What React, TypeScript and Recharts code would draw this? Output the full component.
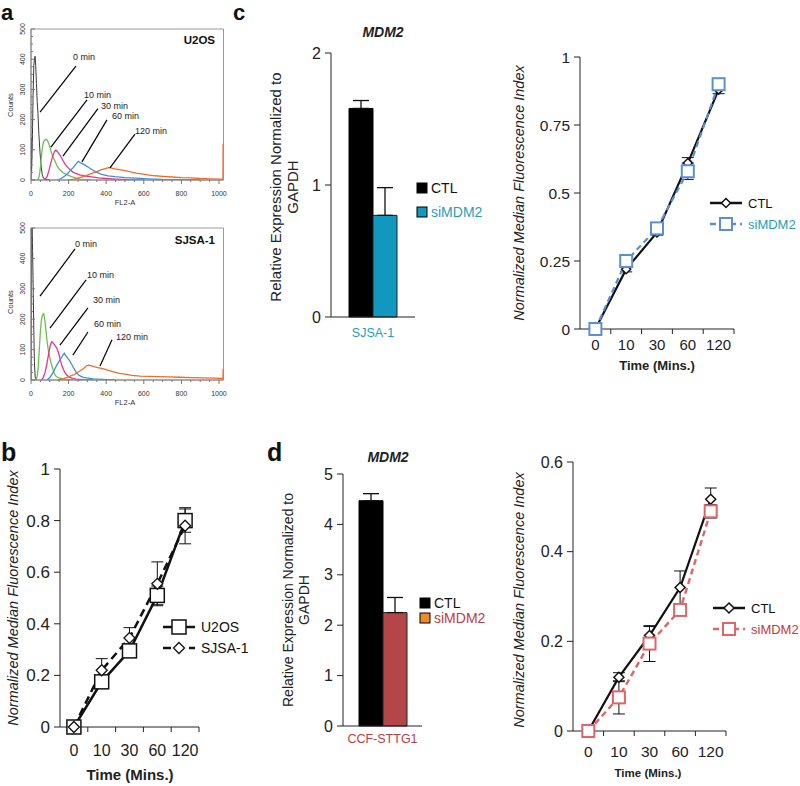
import React from 'react';
import {
  LineChart, Line, XAxis, YAxis, ReferenceLine, ReferenceDot, ReferenceArea,
  BarChart, Bar, ErrorBar, Legend,
} from 'recharts';

const FONT = '"Liberation Sans", Arial, Helvetica, sans-serif';
type Pt = [number, number];

// ---------- Panel a: flow cytometry histograms (FL2-A, Counts) ----------
const u2os0min: Pt[] = [[0,0],[1,140],[3,30],[7,120],[11,280],[15,380],[19,405],[22,410],[25,380],[29,320],[33,260],[37,220],[42,150],[48,90],[54,45],[60,18],[66,6],[80,2],[100,0]];
const u2os10min: Pt[] = [[35,0],[42,8],[48,30],[54,70],[60,105],[66,125],[72,132],[78,135],[84,133],[90,128],[96,118],[102,105],[110,88],[118,75],[128,62],[140,45],[154,33],[170,25],[185,19],[200,15],[220,10],[240,6],[260,3],[290,1],[320,0]];
const u2os30min: Pt[] = [[70,0],[85,10],[95,30],[105,55],[115,78],[123,92],[131,99],[138,96],[145,90],[155,82],[163,73],[172,62],[182,52],[190,46],[198,40],[210,33],[222,27],[234,23],[260,17],[290,13],[323,10],[360,7],[400,5],[450,3],[520,1],[600,0]];
const u2os60min: Pt[] = [[140,0],[160,5],[180,13],[200,25],[215,35],[230,45],[242,55],[252,62],[260,58],[270,55],[285,50],[305,42],[325,34],[345,27],[376,19],[410,14],[447,11],[500,8],[560,6],[620,4],[700,2],[800,1],[900,0]];
const u2os120min: Pt[] = [[200,0],[230,3],[260,8],[290,14],[320,21],[350,28],[375,34],[395,38],[411,41],[425,40],[445,37],[470,34],[500,31],[530,27],[560,23],[589,20],[620,17],[660,14],[700,12],[750,10],[800,8],[850,7],[900,5],[950,4],[1000,3],[1021,2],[1022,118],[1023,118]];

const sjsa0min: Pt[] = [[0,0],[2,520],[6,520],[10,365],[14,200],[18,60],[22,10],[28,0]];
const sjsa10min: Pt[] = [[25,0],[32,10],[38,40],[44,100],[50,160],[56,200],[62,215],[68,218],[74,195],[80,160],[86,125],[92,99],[98,78],[104,62],[110,49],[118,32],[128,16],[140,9],[154,6],[180,3],[220,0]];
const sjsa30min: Pt[] = [[55,0],[65,8],[75,25],[85,55],[95,90],[103,115],[110,126],[118,122],[126,115],[137,105],[145,92],[155,70],[163,49],[172,35],[180,25],[190,16],[203,10],[216,6],[240,3],[280,1],[330,0]];
const sjsa60min: Pt[] = [[85,0],[100,8],[115,22],[128,38],[137,49],[150,62],[162,74],[170,82],[177,88],[185,80],[195,72],[205,64],[216,52],[228,38],[240,26],[252,17],[265,12],[280,9],[296,7],[330,4],[380,2],[450,0]];
const sjsa120min: Pt[] = [[140,0],[170,4],[200,10],[230,18],[255,28],[280,38],[295,46],[305,49],[318,47],[335,44],[355,41],[375,38],[395,35],[411,32],[440,27],[470,22],[500,19],[535,15],[580,13],[630,12],[677,11],[730,10],[790,9],[855,8],[920,7],[979,6],[1015,5],[1021,5],[1022,35],[1023,35]];

const histLabels = ['0 min', '10 min', '30 min', '60 min', '120 min'];
const histColors = ['#3a3a3a', '#6cbf4a', '#e8348a', '#3f8fd8', '#f4692a'];
const histXTicks = [0,50,100,150,200,250,300,350,400,450,500,550,600,650,700,750,800,850,900,950,1000];
const histYTicks = [0,25,50,75,100,125,150,175,200,225,250,275,300,325,350,375,400,425,450,475,500];

// annotation anchors in data units: [textX, textY, lineX1, lineY1, lineX2, lineY2]
const u2osNotes = [[223,409,239,377,48,225],[282,283,298,265,106,109],[372,246,356,236,170,79],[431,213,404,199,271,60],[553,162,553,152,420,40]];
const sjsaNotes = [[234,447,234,431,48,276],[298,345,293,329,101,171],[330,263,303,237,154,115],[335,184,303,158,223,82],[452,141,431,132,367,46]];

// ---------- Time course panels ----------
const timeCats = ['0', '10', '30', '60', '120'];
// panel b
const u2osMfi = [0, 0.175, 0.295, 0.51, 0.80];
const u2osMfiErr = [0, 0.02, 0.02, 0.036, 0.045];
const sjsaMfi = [0, 0.22, 0.345, 0.555, 0.78];
const sjsaMfiErr = [0, 0.045, 0.04, 0.085, 0.07];
// panel c (SJSA-1)
const ctlMfiC = [0, 0.22, 0.355, 0.61, 0.88];
const ctlMfiCErr = [0, 0.01, 0.01, 0.02, 0.015];
const siMfiC = [0, 0.25, 0.37, 0.58, 0.90];
const siMfiCErr = [0, 0.01, 0.01, 0.03, 0.01];
// panel d (CCF-STTG1)
const ctlMfiD = [0, 0.12, 0.213, 0.32, 0.517];
const ctlMfiDErr = [0, 0.01, 0.02, 0.037, 0.025];
const siMfiD = [0, 0.075, 0.195, 0.27, 0.49];
const siMfiDErr = [0, 0.037, 0.04, 0.01, 0.015];

// bar panels: MDM2 expression
const barCellC = 'SJSA-1';
const ctlExprC = 1.58; const ctlExprCErr = 0.06;
const siExprC = 0.77; const siExprCErr = 0.21;
const barCellD = 'CCF-STTG1';
const ctlExprD = 4.47; const ctlExprDErr = 0.14;
const siExprD = 2.25; const siExprDErr = 0.30;

const timeTicks = [0.5, 1, 1.5, 2, 2.5, 3, 3.5, 4, 4.5, 5];

const toXY = (pts: Pt[]) => pts.map(([x, y]) => ({ x, y }));

const HistXTick = (p: any) => {
  const { x, y, payload } = p;
  const v = payload.value;
  const major = v % 200 === 0;
  return (
    <g>
      <line x1={x} x2={x} y1={y} y2={y + (major ? 4 : 2)} stroke="#777" />
      {major && <text x={x} y={y + 16} textAnchor="middle" fontSize={7} fill="#333">{v}</text>}
    </g>
  );
};
const HistYTick = (p: any) => {
  const { x, y, payload } = p;
  const v = payload.value;
  const major = v % 100 === 0;
  return (
    <g>
      <line x1={x} x2={x + (major ? 4 : 2)} y1={y} y2={y} stroke="#777" />
      {major && <text x={x - 6} y={y} transform={`rotate(-90 ${x - 6} ${y})`} textAnchor="middle" fontSize={7} fill="#333">{v}</text>}
    </g>
  );
};

function Histogram({ top, marginTop, curves, notes, title }: any) {
  return (
    <div style={{ position: 'absolute', left: 0, top }}>
      <LineChart width={230} height={200} margin={{ top: marginTop, right: 6.5, bottom: 0, left: 0 }}>
        <XAxis type="number" dataKey="x" domain={[0, 1024]} ticks={histXTicks} interval={0} allowDataOverflow height={20}
          tickSize={0} tickMargin={0} tickLine={false} axisLine={{ stroke: '#888' }} tick={(p: any) => <HistXTick {...p} />} />
        <YAxis type="number" domain={[0, 500]} ticks={histYTicks} interval={0} allowDataOverflow width={31}
          tickSize={0} tickMargin={0} tickLine={false} axisLine={{ stroke: '#888' }} tick={(p: any) => <HistYTick {...p} />} />
        <ReferenceArea x1={0} x2={1024} y1={0} y2={500} fill="none" stroke="#999" ifOverflow="visible" />
        {curves.map((c: Pt[], i: number) => (
          <Line key={histLabels[i]} data={toXY(c)} dataKey="y" type="linear" stroke={histColors[i]}
            strokeWidth={i === 0 ? 1 : 1.3} dot={false} isAnimationActive={false} />
        ))}
        {notes.map((n: number[], i: number) => (
          <ReferenceLine key={'l' + i} segment={[{ x: n[2], y: n[3] }, { x: n[4], y: n[5] }]} stroke="#000" strokeWidth={1.2} ifOverflow="visible" />
        ))}
        {notes.map((n: number[], i: number) => (
          <ReferenceDot key={'t' + i} x={n[0]} y={n[1]} r={0} ifOverflow="visible"
            label={{ value: histLabels[i], position: 'right', offset: 0, fontSize: 9, fill: '#222' }} />
        ))}
        <ReferenceDot x={title[1]} y={title[2]} r={0} ifOverflow="visible"
          label={{ value: title[0], position: 'left', offset: 0, fontSize: 11.5, fontWeight: 'bold', fill: '#111' }} />
      </LineChart>
    </div>
  );
}

const makeTimeTick = (dy: number, fs: number) => (p: any) => {
  const { x, y, payload } = p;
  const v = payload.value;
  if (Number.isInteger(v)) return <line x1={x} x2={x} y1={y} y2={y + 5} stroke="#222" />;
  return <text x={x} y={y + dy} textAnchor="middle" fontSize={fs} fill="#222">{timeCats[v - 0.5]}</text>;
};

const squareDot = (color: string, size: number, sw: number) => (p: any) => (
  <rect key={'sq' + p.index} x={p.cx - size / 2} y={p.cy - size / 2} width={size} height={size} fill="#fff" stroke={color} strokeWidth={sw} />
);
const diamondDot = (color: string, size: number, sw: number) => (p: any) => (
  <path key={'dm' + p.index} d={`M${p.cx},${p.cy - size / 2}L${p.cx + size / 2},${p.cy}L${p.cx},${p.cy + size / 2}L${p.cx - size / 2},${p.cy}Z`} fill="#fff" stroke={color} strokeWidth={sw} />
);

const LineLegendBox = ({ items, fs, gap }: any) => (
  <svg width={110} height={50} style={{ overflow: 'visible', display: 'block' }}>
    {items.map((it: any, i: number) => {
      const y = 10 + i * gap;
      return (
        <g key={it.label}>
          <line x1={0} x2={32} y1={y} y2={y} stroke={it.color} strokeWidth={2.5} strokeDasharray={it.dash} />
          {it.marker === 'square'
            ? <rect x={16 - it.size / 2} y={y - it.size / 2} width={it.size} height={it.size} fill="#fff" stroke={it.color} strokeWidth={it.sw} />
            : <path d={`M16,${y - it.size / 2}L${16 + it.size / 2},${y}L16,${y + it.size / 2}L${16 - it.size / 2},${y}Z`} fill="#fff" stroke={it.color} strokeWidth={it.sw} />}
          <text x={38} y={y + fs * 0.36} fontSize={fs} fill={it.textColor}>{it.label}</text>
        </g>
      );
    })}
  </svg>
);

const BarLegendBox = ({ items, gap }: any) => (
  <svg width={80} height={40} style={{ overflow: 'visible', display: 'block' }}>
    {items.map((it: any, i: number) => {
      const y = 10 + i * gap;
      return (
        <g key={it.label}>
          <rect x={0} y={y - 5} width={10} height={10} fill={it.fill} stroke="#000" strokeWidth={1} />
          <text x={14} y={y + 5} fontSize={14} fill={it.textColor}>{it.label}</text>
        </g>
      );
    })}
  </svg>
);

function TimeChart({ left, top, width, height, mTop, mRight, yWidth, xHeight, yMax, yTicks, rows, series, dy, fs, yfs, legendPos, legendFs }: any) {
  return (
    <div style={{ position: 'absolute', left, top }}>
      <LineChart width={width} height={height} data={rows} margin={{ top: mTop, right: mRight, bottom: 0, left: 0 }}>
        <XAxis type="number" dataKey="t" domain={[0, 5]} ticks={timeTicks} interval={0} height={xHeight}
          tickSize={0} tickMargin={0} tickLine={false} axisLine={{ stroke: '#222' }} tick={makeTimeTick(dy, fs)} />
        <YAxis type="number" domain={[0, yMax]} ticks={yTicks} interval={0} width={yWidth}
          tickSize={6} tickMargin={4} axisLine={{ stroke: '#222' }} tickLine={{ stroke: '#222' }} tick={{ fontSize: yfs, fill: '#222' }} />
        {series.map((s: any) => (
          <Line key={s.key} dataKey={s.key} type="linear" stroke={s.color} strokeWidth={s.width} strokeDasharray={s.dash}
            dot={s.marker === 'square' ? squareDot(s.color, s.size, s.sw) : diamondDot(s.markerColor || s.color, s.size, s.sw)}
            activeDot={false} isAnimationActive={false}>
            <ErrorBar dataKey={s.key + 'Err'} direction="y" width={6} stroke="#111" strokeWidth={1} />
          </Line>
        ))}
        <Legend layout="horizontal" verticalAlign="middle" align="center"
          wrapperStyle={{ left: legendPos[0], top: legendPos[1], width: 110, height: 50 }}
          content={() => <LineLegendBox fs={legendFs} gap={21} items={series.map((s: any) => ({ label: s.name, color: s.color, dash: s.dash, marker: s.marker, size: s.size, sw: s.sw, textColor: s.textColor }))} />} />
      </LineChart>
    </div>
  );
}

function ExprBars({ left, top, width, height, mTop, mRight, yWidth, xHeight, yMax, yTicks, row, siColor, siLegend, labelColor, dy, legendPos, gap }: any) {
  return (
    <div style={{ position: 'absolute', left, top }}>
      <BarChart width={width} height={height} data={[row]} margin={{ top: mTop, right: mRight, bottom: 0, left: 0 }} barGap={0} barCategoryGap={0}>
        <XAxis dataKey="cell" height={xHeight} tickSize={0} tickMargin={0} tickLine={false} axisLine={{ stroke: '#222' }}
          tick={(p: any) => <text x={p.x} y={p.y + dy} textAnchor="middle" fontSize={12.5} fill={labelColor}>{p.payload.value}</text>} />
        <YAxis type="number" domain={[0, yMax]} ticks={yTicks} interval={0} width={yWidth}
          tickSize={6} tickMargin={4} axisLine={{ stroke: '#222' }} tickLine={{ stroke: '#222' }} tick={{ fontSize: 16, fill: '#222' }} />
        <Bar dataKey="ctl" fill="#000" stroke="#000" barSize={24} isAnimationActive={false}>
          <ErrorBar dataKey="ctlErr" direction="y" width={8} stroke="#111" strokeWidth={1.3} />
        </Bar>
        <Bar dataKey="si" fill={siColor} stroke="#222" barSize={24} isAnimationActive={false}>
          <ErrorBar dataKey="siErr" direction="y" width={8} stroke="#111" strokeWidth={1.3} />
        </Bar>
        <Legend layout="horizontal" verticalAlign="middle" align="center"
          wrapperStyle={{ left: legendPos[0], top: legendPos[1], width: 80, height: 40 }}
          content={() => <BarLegendBox gap={gap} items={[{ label: 'CTL', fill: '#000', textColor: '#111' }, { label: 'siMDM2', fill: siLegend, textColor: labelColor }]} />} />
      </BarChart>
    </div>
  );
}

const Rot = ({ x, y, children, ...rest }: any) => (
  <text x={x} y={y} transform={`rotate(-90 ${x} ${y})`} textAnchor="middle" {...rest}>{children}</text>
);

export default function App() {
  const rowsB = timeCats.map((c, i) => ({ t: i + 0.5, label: c, u2os: u2osMfi[i], u2osErr: u2osMfiErr[i], sjsa: sjsaMfi[i], sjsaErr: sjsaMfiErr[i] }));
  const rowsC = timeCats.map((c, i) => ({ t: i + 0.5, label: c, ctl: ctlMfiC[i], ctlErr: ctlMfiCErr[i], si: siMfiC[i], siErr: siMfiCErr[i] }));
  const rowsD = timeCats.map((c, i) => ({ t: i + 0.5, label: c, ctl: ctlMfiD[i], ctlErr: ctlMfiDErr[i], si: siMfiD[i], siErr: siMfiDErr[i] }));
  const teal = '#1e9fba';
  const red = '#c23b3e';

  return (
    <div style={{ position: 'absolute', left: 0, top: 0, width: 800, height: 786, background: '#fff', fontFamily: FONT, overflow: 'hidden' }}>
      <Histogram top={0} marginTop={29} curves={[u2os0min, u2os10min, u2os30min, u2os60min, u2os120min]} notes={u2osNotes} title={['U2OS', 979, 464]} />
      <Histogram top={200} marginTop={28} curves={[sjsa0min, sjsa10min, sjsa30min, sjsa60min, sjsa120min]} notes={sjsaNotes} title={['SJSA-1', 979, 461]} />

      <TimeChart left={0} top={455} width={215} height={310} mTop={14} mRight={16} yWidth={60} xHeight={38}
        yMax={1} yTicks={[0, 0.2, 0.4, 0.6, 0.8, 1]} rows={rowsB} dy={29} fs={16} yfs={17} legendPos={[163, 162]} legendFs={14}
        series={[
          { key: 'u2os', name: 'U2OS', color: '#111', width: 2.5, dash: undefined, marker: 'square', size: 14, sw: 1.5, textColor: '#111' },
          { key: 'sjsa', name: 'SJSA-1', color: '#111', width: 2.5, dash: '8 5', marker: 'diamond', size: 11, sw: 1.3, textColor: '#111' },
        ]} />

      <ExprBars left={230} top={40} width={200} height={300} mTop={13} mRight={15} yWidth={101} xHeight={23}
        yMax={2} yTicks={[0, 1, 2]} row={{ cell: barCellC, ctl: ctlExprC, ctlErr: [0, ctlExprCErr], si: siExprC, siErr: [0, siExprCErr] }}
        siColor="#1297bf" siLegend="#1297bf" labelColor={teal} dy={20} legendPos={[187, 138]} gap={24} />

      <TimeChart left={470} top={40} width={280} height={330} mTop={17} mRight={16} yWidth={110} xHeight={41}
        yMax={1} yTicks={[0, 0.25, 0.5, 0.75, 1]} rows={rowsC} dy={21} fs={15} yfs={15.5} legendPos={[240, 153]} legendFs={13}
        series={[
          { key: 'ctl', name: 'CTL', color: '#111', width: 2.2, dash: undefined, marker: 'diamond', size: 9, sw: 1.5, textColor: '#111' },
          { key: 'si', name: 'siMDM2', color: '#5b8fd0', width: 2.2, dash: '6 4', marker: 'square', size: 12, sw: 2, textColor: teal },
        ]} />

      <ExprBars left={240} top={455} width={195} height={295} mTop={19} mRight={13} yWidth={103} xHeight={24}
        yMax={5} yTicks={[0, 1, 2, 3, 4, 5]} row={{ cell: barCellD, ctl: ctlExprD, ctlErr: [0, ctlExprDErr], si: siExprD, siErr: [0, siExprDErr] }}
        siColor="#b4464a" siLegend="#ee8a2c" labelColor={red} dy={17} legendPos={[180, 138]} gap={15} />

      <TimeChart left={470} top={445} width={275} height={315} mTop={17} mRight={19} yWidth={103} xHeight={29}
        yMax={0.6} yTicks={[0, 0.2, 0.4, 0.6]} rows={rowsD} dy={26} fs={15.5} yfs={16} legendPos={[243, 153]} legendFs={13}
        series={[
          { key: 'ctl', name: 'CTL', color: '#111', width: 2.2, dash: undefined, marker: 'diamond', size: 10, sw: 1.5, textColor: '#111' },
          { key: 'si', name: 'siMDM2', color: '#e06468', width: 2.4, dash: '6 4', marker: 'square', size: 12, sw: 2, textColor: red },
        ]} />

      <svg width={800} height={786} style={{ position: 'absolute', left: 0, top: 0, pointerEvents: 'none' }} fontFamily={FONT}>
        <text x={1} y={20} fontSize={22} fontWeight="bold" fill="#111">a</text>
        <text x={1} y={461} fontSize={25} fontWeight="bold" fill="#111">b</text>
        <text x={233} y={20} fontSize={22} fontWeight="bold" fill="#111">c</text>
        <text x={267} y={461} fontSize={25} fontWeight="bold" fill="#111">d</text>

        <Rot x={13} y={105} fontSize={7.5} fill="#333">Counts</Rot>
        <Rot x={13} y={302} fontSize={7.5} fill="#333">Counts</Rot>
        <text x={125} y={205} fontSize={7.5} textAnchor="middle" fill="#333">FL2-A</text>
        <text x={125} y={405} fontSize={7.5} textAnchor="middle" fill="#333">FL2-A</text>

        <Rot x={18} y={598} fontSize={14.5} fontStyle="italic" fill="#222">Normalized Median Fluorescence Index</Rot>
        <text x={130} y={780} fontSize={15} fontWeight="bold" textAnchor="middle" fill="#222">Time (Mins.)</text>

        <text x={383} y={37} fontSize={14} fontWeight="bold" fontStyle="italic" textAnchor="middle" fill="#222">MDM2</text>
        <Rot x={281} y={187} fontSize={15} fill="#222">Relative Expression Normalized to</Rot>
        <Rot x={298} y={187} fontSize={15} fill="#222">GAPDH</Rot>

        <Rot x={524} y={193} fontSize={14.5} fontStyle="italic" fill="#222">Normalized Median Fluorescence Index</Rot>
        <text x={657} y={370} fontSize={13} fontWeight="bold" textAnchor="middle" fill="#222">Time (Mins.)</text>

        <text x={388} y={462} fontSize={14} fontWeight="bold" fontStyle="italic" textAnchor="middle" fill="#222">MDM2</text>
        <Rot x={293} y={600} fontSize={14} fill="#222">Relative Expression Normalized to</Rot>
        <Rot x={309} y={600} fontSize={14} fill="#222">GAPDH</Rot>

        <Rot x={524} y={600} fontSize={14.5} fontStyle="italic" fill="#222">Normalized Median Fluorescence Index</Rot>
        <text x={648} y={777} fontSize={11.5} fontWeight="bold" textAnchor="middle" fill="#222">Time (Mins.)</text>
      </svg>
    </div>
  );
}
